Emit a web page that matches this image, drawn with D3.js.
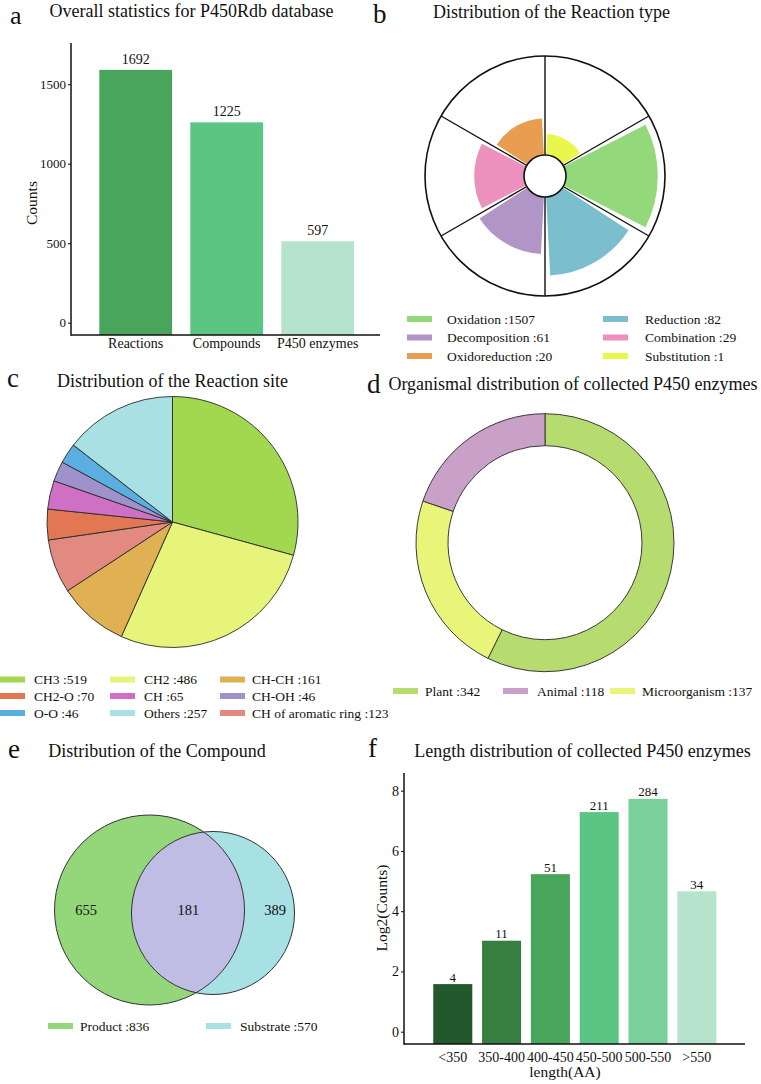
<!DOCTYPE html>
<html><head><meta charset="utf-8">
<script src="https://cdn.jsdelivr.net/npm/d3@7"></script>
<style>
html,body{margin:0;padding:0;background:#fff;}
svg{display:block;font-family:"Liberation Serif","Times New Roman",serif;}
</style></head><body>
<svg id="fig" width="761" height="1084"></svg>
<script>
// ---------------- DATA ----------------
// (a) overall statistics
const overviewCategories = ["Reactions", "Compounds", "P450 enzymes"];
const overviewBarValues  = [1590, 1260, 512];       // bar heights as drawn
const overviewLabels     = ["1692", "1225", "597"]; // printed labels
const overviewColors     = ["#4aa55c", "#5bc684", "#b5e3cc"];
const overviewTicks      = [0, 500, 1000, 1500];

// (b) reaction type rose (clockwise from 12 o'clock)
const reactionTypes   = ["Substitution", "Oxidation", "Reduction", "Decomposition", "Combination", "Oxidoreduction"];
const reactionCounts  = [1, 1507, 82, 61, 29, 20];
const reactionExtent  = [0.35, 0.94, 0.83, 0.65, 0.59, 0.48]; // drawn radial extent (fraction of full radius)
const reactionColors  = ["#e9f74c", "#93d87b", "#7bbfcf", "#b095c6", "#ec90bd", "#e89d50"];
const reactionLegendOrder = ["Oxidation", "Decomposition", "Oxidoreduction", "Reduction", "Combination", "Substitution"];

// (c) reaction site pie (clockwise from 12 o'clock)
const siteNames  = ["CH3", "CH2", "CH-CH", "CH of aromatic ring", "CH2-O", "CH", "CH-OH", "O-O", "Others"];
const siteCounts = [519, 486, 161, 123, 70, 65, 46, 46, 257];
const siteColors = ["#a2d84f", "#e6f47a", "#dfb152", "#e28a80", "#e27853", "#d070c4", "#9f91cc", "#5aaee0", "#a9e0e3"];
const siteLegendOrder = ["CH3", "CH2", "CH-CH", "CH2-O", "CH", "CH-OH", "O-O", "Others", "CH of aromatic ring"];

// (d) organism donut (clockwise from 12 o'clock)
const organismNames  = ["Plant", "Microorganism", "Animal"];
const organismCounts = [342, 137, 118];
const organismColors = ["#b6dc6f", "#e8f578", "#c9a1c8"];
const organismLegendOrder = ["Plant", "Animal", "Microorganism"];

// (e) compound venn
const vennSets    = ["Product", "Substrate"];
const vennTotals  = [836, 570];
const vennRegions = ["655", "181", "389"];
const vennColors  = ["#93d77a", "#a7e1e3"];
const vennOverlapColor = "#bfbde3";

// (f) length distribution
const lengthBins    = ["<350", "350-400", "400-450", "450-500", "500-550", ">550"];
const lengthLog2    = [1.58, 3.02, 5.23, 7.29, 7.73, 4.66]; // bar heights as drawn
const lengthLabels  = ["4", "11", "51", "211", "284", "34"];
const lengthColors  = ["#23582c", "#377f40", "#4aa55c", "#5bc684", "#7bcf9b", "#b5e3cc"];
const lengthTicks   = [0, 2, 4, 6, 8];

// ---------------- DRAWING ----------------
const SERIF = "Liberation Serif";
const svg = d3.select("#fig");
svg.append("rect").attr("width", 761).attr("height", 1084).attr("fill", "#fff");
const rad = d => d * Math.PI / 180;

function header(letter, lx, lby, title, tcx, tby, lsize) {
  svg.append("text").attr("x", lx).attr("y", lby).attr("font-size", lsize || 27).attr("fill", "#111").text(letter);
  svg.append("text").attr("x", tcx).attr("y", tby).attr("font-size", 18).attr("text-anchor", "middle").attr("fill", "#111").text(title);
}
function swatch(g, x, cy, color) {
  g.append("rect").attr("x", x).attr("y", cy - 3).attr("width", 25).attr("height", 6).attr("fill", color);
}
function legendText(g, x, cy, txt) {
  g.append("text").attr("x", x).attr("y", cy).attr("dy", "0.35em").attr("font-size", 13.5).attr("fill", "#111").text(txt);
}

// ===== (a) =====
header("a", 10, 23.5, "Overall statistics for P450Rdb database", 191.5, 17, 26);
{
  const g = svg.append("g");
  const x = d3.scaleBand().domain(overviewCategories).range([81.1, 372.3]).paddingInner(0.2).paddingOuter(0.2);
  const y = d3.scaleLinear().domain([0, 1500]).range([322.7, 84.2]);
  const base = 335, top = 43, left = 71;
  g.selectAll("rect.bar").data(overviewCategories).join("rect")
    .attr("x", d => x(d)).attr("width", x.bandwidth())
    .attr("y", (d, i) => y(overviewBarValues[i]))
    .attr("height", (d, i) => base - y(overviewBarValues[i]))
    .attr("fill", (d, i) => overviewColors[i]);
  g.selectAll("text.val").data(overviewCategories).join("text")
    .attr("x", d => x(d) + x.bandwidth() / 2)
    .attr("y", (d, i) => y(overviewBarValues[i]) - 6)
    .attr("text-anchor", "middle").attr("font-size", 14).attr("fill", "#111")
    .text((d, i) => overviewLabels[i]);
  const ax = g.append("g").attr("transform", `translate(${left},0)`)
    .call(d3.axisLeft(y).tickValues(overviewTicks).tickFormat(d3.format("d")).tickSize(3).tickPadding(2));
  ax.attr("font-family", SERIF);
  ax.select(".domain").remove();
  ax.selectAll("text").attr("font-size", 13).attr("font-family", SERIF).attr("fill", "#111");
  ax.selectAll("line").attr("stroke", "#111");
  g.append("line").attr("x1", left).attr("x2", left).attr("y1", top).attr("y2", base + 0.75).attr("stroke", "#111").attr("stroke-width", 1.5);
  g.append("line").attr("x1", left).attr("x2", 380).attr("y1", base).attr("y2", base).attr("stroke", "#111").attr("stroke-width", 1.5);
  g.selectAll("text.xl").data(overviewCategories).join("text")
    .attr("x", d => x(d) + x.bandwidth() / 2).attr("y", 348)
    .attr("text-anchor", "middle").attr("font-size", 14).attr("fill", "#111").text(d => d);
  g.append("text").attr("transform", "translate(37,203) rotate(-90)").attr("text-anchor", "middle")
    .attr("font-size", 15.5).attr("fill", "#111").text("Counts");
}

// ===== (b) =====
header("b", 373, 23, "Distribution of the Reaction type", 551.5, 18);
{
  const cx = 545, cy = 176, R = 120, hole = 21, pad = 3;
  const g = svg.append("g").attr("transform", `translate(${cx},${cy})`);
  const r = d3.scaleLinear().domain([0, 1]).range([0, R]);
  const step = 360 / reactionTypes.length;
  const arc = d3.arc();
  g.selectAll("path.w").data(reactionTypes).join("path")
    .attr("d", (d, i) => arc({
      innerRadius: hole, outerRadius: r(reactionExtent[i]),
      startAngle: rad(i * step + pad), endAngle: rad((i + 1) * step - pad)
    }))
    .attr("fill", (d, i) => reactionColors[i]);
  g.append("circle").attr("r", R).attr("fill", "none").attr("stroke", "#111").attr("stroke-width", 1.6);
  g.selectAll("line.div").data(reactionTypes).join("line")
    .attr("x1", (d, i) => hole * Math.sin(rad(i * step))).attr("y1", (d, i) => -hole * Math.cos(rad(i * step)))
    .attr("x2", (d, i) => R * Math.sin(rad(i * step))).attr("y2", (d, i) => -R * Math.cos(rad(i * step)))
    .attr("stroke", "#111").attr("stroke-width", 1.4);
  g.append("circle").attr("r", hole).attr("fill", "#fff").attr("stroke", "#111").attr("stroke-width", 1.6);

  const lg = svg.append("g");
  const rows = [319, 337.5, 356], swX = [407, 603], txX = [447, 645];
  reactionLegendOrder.forEach((name, i) => {
    const col = Math.floor(i / 3), row = i % 3;
    const k = reactionTypes.indexOf(name);
    swatch(lg, swX[col], rows[row], reactionColors[k]);
    legendText(lg, txX[col], rows[row], `${name} :${reactionCounts[k]}`);
  });
}

// ===== (c) =====
header("c", 7, 387, "Distribution of the Reaction site", 172.5, 387);
{
  const cx = 172.5, cy = 522, R = 125.5;
  const g = svg.append("g").attr("transform", `translate(${cx},${cy})`);
  const pie = d3.pie().sort(null).value(d => d)(siteCounts);
  const arc = d3.arc().innerRadius(0).outerRadius(R);
  g.selectAll("path").data(pie).join("path").attr("d", arc)
    .attr("fill", (d, i) => siteColors[i]).attr("stroke", "#2a2a2a").attr("stroke-width", 0.9);

  const lg = svg.append("g");
  const rows = [679.5, 696, 713], swX = [0, 110, 220], txX = [34, 144, 252];
  siteLegendOrder.forEach((name, i) => {
    const col = i % 3, row = Math.floor(i / 3);
    const k = siteNames.indexOf(name);
    swatch(lg, swX[col], rows[row], siteColors[k]);
    legendText(lg, txX[col], rows[row], `${name} :${siteCounts[k]}`);
  });
}

// ===== (d) =====
header("d", 367, 393, "Organismal distribution of collected P450 enzymes", 573, 390);
{
  const cx = 545, cy = 542.7;
  const g = svg.append("g").attr("transform", `translate(${cx},${cy})`);
  const pie = d3.pie().sort(null).value(d => d)(organismCounts);
  const arc = d3.arc().innerRadius(97).outerRadius(129);
  g.selectAll("path").data(pie).join("path").attr("d", arc)
    .attr("fill", (d, i) => organismColors[i]).attr("stroke", "#3a3a3a").attr("stroke-width", 1);

  const lg = svg.append("g");
  const rowY = 691, swX = [393, 503, 610], txX = [425, 537, 642];
  organismLegendOrder.forEach((name, i) => {
    const k = organismNames.indexOf(name);
    swatch(lg, swX[i], rowY, organismColors[k]);
    legendText(lg, txX[i], rowY, `${name} :${organismCounts[k]}`);
  });
}

// ===== (e) =====
header("e", 8, 758, "Distribution of the Compound", 157, 757);
{
  const rScale = d3.scalePow().exponent(0.4).domain([0, vennTotals[0]]).range([0, 95]);
  const centers = [[149.5, 910], [213, 913]];
  const radii = vennTotals.map(v => rScale(v));
  const g = svg.append("g");
  const defs = svg.append("defs");
  defs.append("clipPath").attr("id", "clipSub").append("circle")
    .attr("cx", centers[1][0]).attr("cy", centers[1][1]).attr("r", radii[1]);
  g.selectAll("circle.fill").data(vennSets).join("circle")
    .attr("cx", (d, i) => centers[i][0]).attr("cy", (d, i) => centers[i][1]).attr("r", (d, i) => radii[i])
    .attr("fill", (d, i) => vennColors[i]);
  g.append("circle").attr("cx", centers[0][0]).attr("cy", centers[0][1]).attr("r", radii[0])
    .attr("clip-path", "url(#clipSub)").attr("fill", vennOverlapColor);
  g.selectAll("circle.st").data(vennSets).join("circle")
    .attr("cx", (d, i) => centers[i][0]).attr("cy", (d, i) => centers[i][1]).attr("r", (d, i) => radii[i])
    .attr("fill", "none").attr("stroke", "#333").attr("stroke-width", 1);
  const lx = [86, 188.3, 275];
  g.selectAll("text.rg").data(vennRegions).join("text")
    .attr("x", (d, i) => lx[i]).attr("y", 910).attr("dy", "0.35em").attr("text-anchor", "middle")
    .attr("font-size", 14.5).attr("fill", "#111").text(d => d);

  const lg = svg.append("g");
  const rowY = 1026, swX = [48, 206], txX = [80, 240];
  vennSets.forEach((name, i) => {
    swatch(lg, swX[i], rowY, vennColors[i]);
    legendText(lg, txX[i], rowY, `${name} :${vennTotals[i]}`);
  });
}

// ===== (f) =====
header("f", 368, 757, "Length distribution of collected P450 enzymes", 582.5, 757);
{
  const g = svg.append("g");
  const x = d3.scaleBand().domain(lengthBins).range([423.5, 726.1]).paddingInner(0.2).paddingOuter(0.2);
  const y = d3.scaleLinear().domain([0, 8]).range([1031.7, 790.7]);
  const base = 1044, top = 773, left = 404;
  g.selectAll("rect.bar").data(lengthBins).join("rect")
    .attr("x", d => x(d)).attr("width", x.bandwidth())
    .attr("y", (d, i) => y(lengthLog2[i])).attr("height", (d, i) => base - y(lengthLog2[i]))
    .attr("fill", (d, i) => lengthColors[i]);
  g.selectAll("text.val").data(lengthBins).join("text")
    .attr("x", d => x(d) + x.bandwidth() / 2).attr("y", (d, i) => y(lengthLog2[i]) - 2.5)
    .attr("text-anchor", "middle").attr("font-size", 13).attr("fill", "#111").text((d, i) => lengthLabels[i]);
  const ax = g.append("g").attr("transform", `translate(${left},0)`)
    .call(d3.axisLeft(y).tickValues(lengthTicks).tickFormat(d3.format("d")).tickSize(3).tickPadding(2));
  ax.attr("font-family", SERIF);
  ax.select(".domain").remove();
  ax.selectAll("text").attr("font-size", 14).attr("font-family", SERIF).attr("fill", "#111");
  ax.selectAll("line").attr("stroke", "#111");
  g.append("line").attr("x1", left).attr("x2", left).attr("y1", top).attr("y2", base + 0.75).attr("stroke", "#111").attr("stroke-width", 1.5);
  g.append("line").attr("x1", left).attr("x2", 745).attr("y1", base).attr("y2", base).attr("stroke", "#111").attr("stroke-width", 1.5);
  g.selectAll("text.xl").data(lengthBins).join("text")
    .attr("x", d => x(d) + x.bandwidth() / 2).attr("y", 1062)
    .attr("text-anchor", "middle").attr("font-size", 14).attr("fill", "#111").text(d => d);
  g.append("text").attr("x", 565).attr("y", 1077).attr("text-anchor", "middle")
    .attr("font-size", 15.5).attr("fill", "#111").text("length(AA)");
  g.append("text").attr("transform", "translate(387,908) rotate(-90)").attr("text-anchor", "middle")
    .attr("font-size", 15.5).attr("fill", "#111").text("Log2(Counts)");
}
</script>
</body></html>
